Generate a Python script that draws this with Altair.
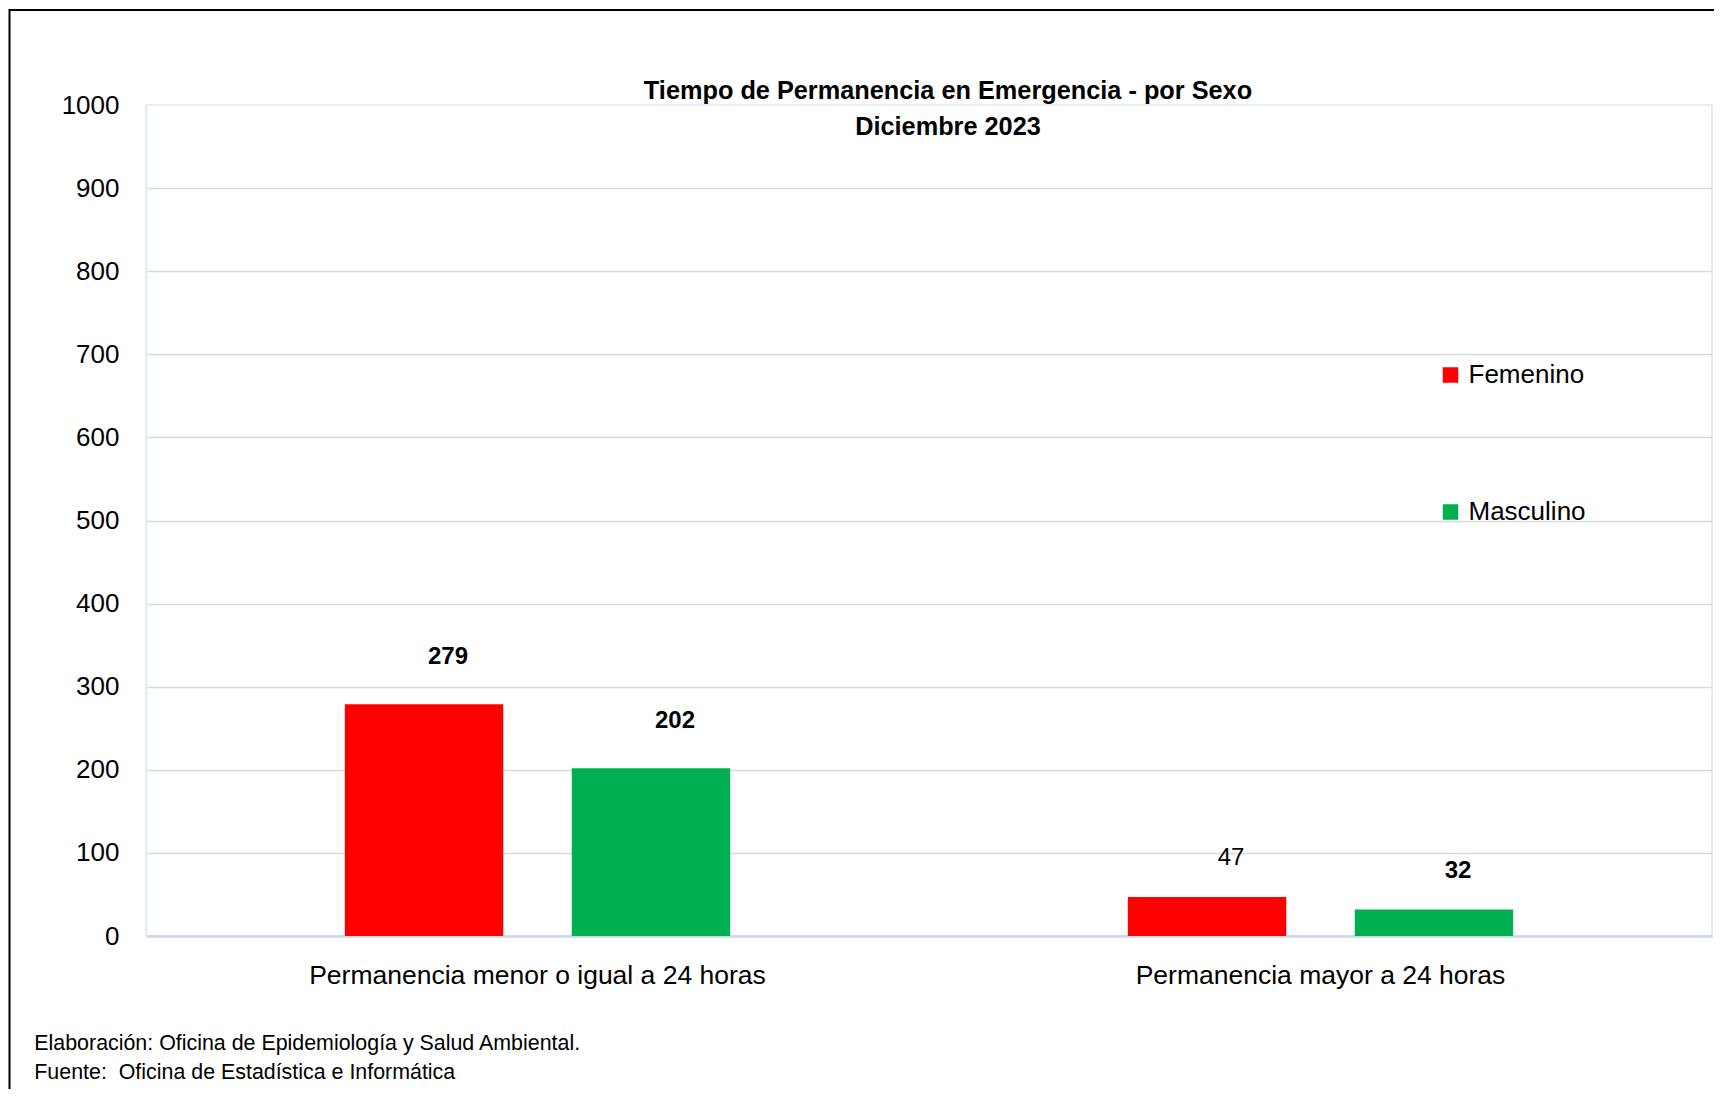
import altair as alt
import pandas as pd

# ---- data ----
CATEGORIAS = ["Permanencia menor o igual a 24 horas", "Permanencia mayor a 24 horas"]
SEXOS = ["Femenino", "Masculino"]
FEMENINO = [279, 47]
MASCULINO = [202, 32]
Y_TICKS = [0, 100, 200, 300, 400, 500, 600, 700, 800, 900, 1000]
TITULO = ["Tiempo de Permanencia en Emergencia - por Sexo", "Diciembre 2023"]
NOTAS = [
    "Elaboración: Oficina de Epidemiología y Salud Ambiental.",
    "Fuente:\u00a0 Oficina de Estadística e Informática",
]
COLORES = ["#FF0000", "#00B050"]

# ---- label styling (kept apart from the data) ----
# vertical offset of the value labels for each category group
LABEL_DY = {CATEGORIAS[0]: -47, CATEGORIAS[1]: -38.5}
# label printed in regular weight (all others are bold)
REGULAR_LABEL = (CATEGORIAS[1], "Femenino")

rows = []
for i, c in enumerate(CATEGORIAS):
    rows.append({"categoria": c, "sexo": "Femenino", "valor": FEMENINO[i]})
    rows.append({"categoria": c, "sexo": "Masculino", "valor": MASCULINO[i]})
df = pd.DataFrame(rows)

W, H = 1566, 831
FONT = "Liberation Sans"

x_enc = alt.X(
    "categoria:N",
    sort=CATEGORIAS,
    scale=alt.Scale(paddingInner=0, paddingOuter=0),
    axis=alt.Axis(
        title=None, labelFontSize=26.5, labelColor="black", labelFont=FONT,
        labelPadding=26, labelLimit=0, ticks=False, tickSize=0,
        domainColor="#c6d9f0", domainWidth=2.5, grid=False, labelAngle=0,
    ),
)
xoff = alt.XOffset("sexo:N", sort=SEXOS, scale=alt.Scale(paddingInner=0.302, paddingOuter=0.876))
y_enc = alt.Y(
    "valor:Q",
    scale=alt.Scale(domain=[0, 1000], nice=False),
    axis=alt.Axis(
        title=None, values=Y_TICKS, format="d", labelFontSize=26, labelColor="black",
        labelFont=FONT, labelPadding=27, ticks=False, tickSize=0,
        domainColor="#e6eef7", domainWidth=2,
        gridColor={"condition": {"test": "datum.value === 1000", "value": "#eef3f9"}, "value": "#d9d9d9"},
        gridWidth=1.5,
    ),
)
color_enc = alt.Color(
    "sexo:N",
    sort=SEXOS,
    scale=alt.Scale(domain=SEXOS, range=COLORES),
    legend=alt.Legend(
        title=None, orient="none", legendX=1291.5, legendY=257,
        labelFontSize=26, labelFont=FONT, labelColor="black",
        symbolType="square", symbolSize=240, symbolStrokeWidth=0,
        rowPadding=111, labelOffset=5, padding=0,
    ),
)

base = alt.Chart(df)

bars = base.mark_bar().encode(x=x_enc, xOffset=xoff, y=y_enc, color=color_enc)

cond_regular = f"datum.categoria === '{REGULAR_LABEL[0]}' && datum.sexo === '{REGULAR_LABEL[1]}'"

label_layers = []
for cat in CATEGORIAS:
    in_cat = f"datum.categoria === '{cat}'"
    label_layers.append(
        base.transform_filter(f"{in_cat} && !({cond_regular})").mark_text(
            font=FONT, fontSize=24, fontWeight="bold", color="black",
            baseline="middle", align="center", dx=24, dy=LABEL_DY[cat],
        ).encode(x=x_enc, xOffset=xoff, y=y_enc, text="valor:Q")
    )
    label_layers.append(
        base.transform_filter(f"{in_cat} && ({cond_regular})").mark_text(
            font=FONT, fontSize=24, fontWeight="normal", color="black",
            baseline="middle", align="center", dx=24, dy=LABEL_DY[cat],
        ).encode(x=x_enc, xOffset=xoff, y=y_enc, text="valor:Q")
    )

one = alt.Data(values=[{"k": 0}])

titulo = alt.Chart(one).mark_text(
    text=TITULO, font=FONT, fontSize=25.3, fontWeight="bold", color="black",
    align="center", baseline="middle", lineHeight=36,
).encode(x=alt.value(802), y=alt.value(-13.7))

notas = alt.Chart(one).mark_text(
    text=NOTAS, font=FONT, fontSize=21.4, color="black",
    align="left", baseline="middle", lineHeight=28.7,
).encode(x=alt.value(-111.7), y=alt.value(939))

marco = alt.Chart(one).mark_rect(fill="transparent", stroke="black", strokeWidth=2).encode(
    x=alt.value(-136.5), y=alt.value(-95), x2=alt.value(W + 300), y2=alt.value(H + 400)
)

chart = (
    alt.layer(marco, bars, *label_layers, titulo, notas)
    .properties(
        width=W, height=H,
        autosize=alt.AutoSizeParams(type="none"),
        padding={"left": 138, "top": 97, "right": 2, "bottom": 153},
        background="white",
    )
    .configure_view(stroke="#e3ebf5", strokeWidth=2)
)

chart.save("out.html", embed_options={"renderer": "svg", "actions": False})
